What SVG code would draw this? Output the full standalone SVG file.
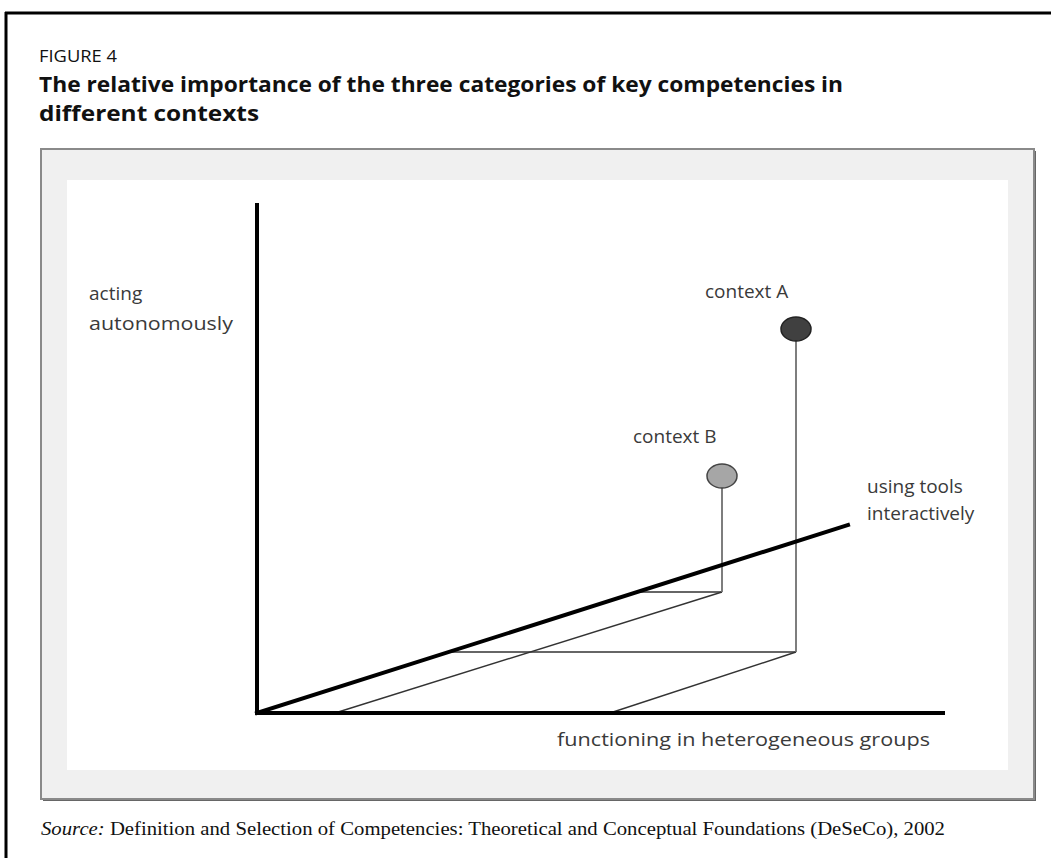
<svg xmlns="http://www.w3.org/2000/svg" width="1051" height="858" viewBox="0 0 1051 858">
<style>
.lbl{font-family:"Open Sans","Liberation Sans",sans-serif;font-size:19px;fill:#3a3a3a}
.ttl{font-family:"Open Sans","Liberation Sans",sans-serif;fill:#111}
.axis{stroke:#000;stroke-width:4;fill:none;stroke-linecap:square}
.thin{stroke:#333;stroke-width:1.4;fill:none}
.stem{stroke:#707070;stroke-width:1.8;fill:none}
</style>
<rect width="1051" height="858" fill="#fff"/>
<g id="frame">
<line x1="5" y1="13" x2="1051" y2="13" stroke="#000" stroke-width="3"/>
<line x1="6" y1="12" x2="6" y2="858" stroke="#000" stroke-width="3"/>
</g>
<g id="titles">
<text class="ttl" x="39" y="62" font-size="17" textLength="78" lengthAdjust="spacingAndGlyphs">FIGURE 4</text>
<text class="ttl" x="39" y="92" font-size="22" font-weight="bold" textLength="804" lengthAdjust="spacingAndGlyphs">The relative importance of the three categories of key competencies in</text>
<text class="ttl" x="39" y="121" font-size="22" font-weight="bold" textLength="220" lengthAdjust="spacingAndGlyphs">different contexts</text>
</g>
<g id="panel">
<rect x="43" y="151" width="993" height="650" fill="#666"/>
<rect x="41" y="149" width="993" height="650" fill="#f0f0f0" stroke="#8a8a8a" stroke-width="2"/>
<rect x="67" y="180" width="941" height="590" fill="#fff"/>
</g>
<g id="connectors">
<line class="thin" x1="335" y1="713" x2="722" y2="592"/>
<line class="thin" x1="637" y1="592" x2="722" y2="592"/>
<line class="thin" x1="610" y1="713" x2="796" y2="652"/>
<line class="thin" x1="448" y1="652" x2="796" y2="652"/>
<line class="stem" x1="722" y1="592" x2="722" y2="487"/>
<line class="stem" x1="796" y1="652" x2="796" y2="340"/>
</g>
<g id="axes">
<line class="axis" x1="257" y1="205" x2="257" y2="713"/>
<line class="axis" x1="257" y1="713" x2="943" y2="713"/>
<line class="axis" x1="257" y1="713" x2="848" y2="525"/>
</g>
<g id="axis-acting">
<text class="lbl" x="89" y="300">acting</text>
<text class="lbl" x="89" y="330" textLength="144" lengthAdjust="spacingAndGlyphs">autonomously</text>
</g>
<g id="axis-tools">
<text class="lbl" x="867" y="493">using tools</text>
<text class="lbl" x="867" y="520">interactively</text>
</g>
<g id="axis-groups">
<text class="lbl" x="557" y="746" textLength="373" lengthAdjust="spacingAndGlyphs">functioning in heterogeneous groups</text>
</g>
<g id="contextA">
<ellipse cx="796" cy="329" rx="15" ry="12" fill="#404040" stroke="#222" stroke-width="1.5"/>
<text class="lbl" x="705" y="298">context A</text>
</g>
<g id="contextB">
<ellipse cx="722" cy="476" rx="15" ry="12" fill="#a6a6a6" stroke="#444" stroke-width="1.5"/>
<text class="lbl" x="633" y="443">context B</text>
</g>
<g id="source">
<text x="41" y="835" font-family="Liberation Serif,serif" font-size="19" fill="#111" textLength="904" lengthAdjust="spacingAndGlyphs"><tspan font-style="italic">Source:</tspan>  Definition and Selection of Competencies: Theoretical and Conceptual Foundations (DeSeCo), 2002</text>
</g>
</svg>
